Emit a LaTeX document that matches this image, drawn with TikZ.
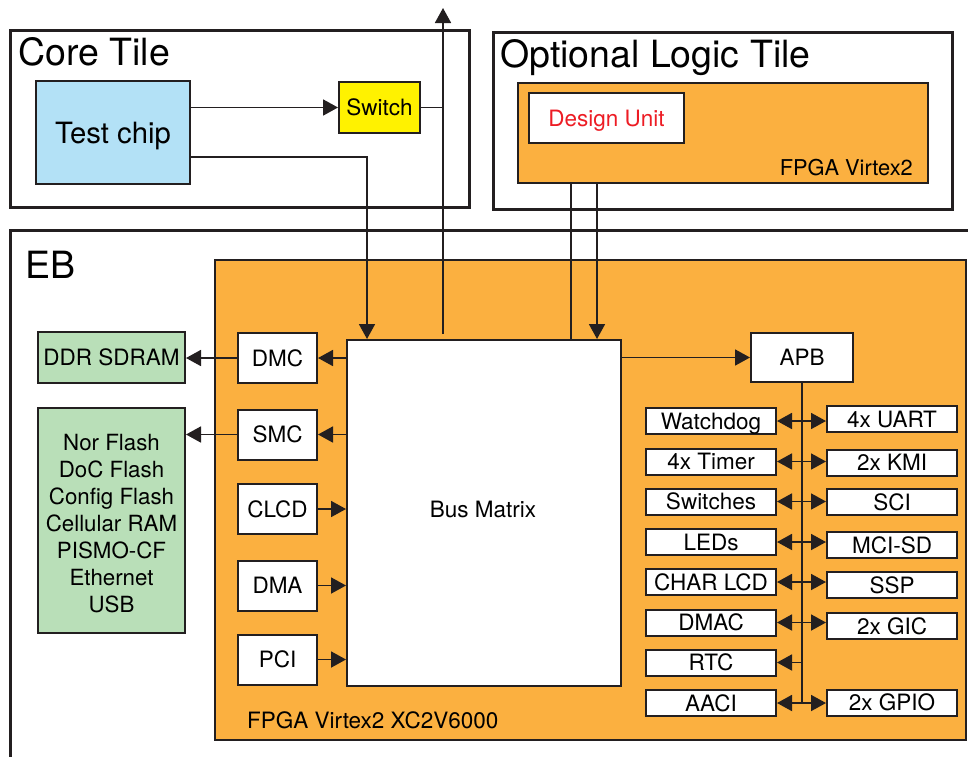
\documentclass[tikz,border=0pt]{standalone}
\usepackage{fontspec}
\setmainfont{TeX Gyre Heros}
\usetikzlibrary{arrows.meta}

\definecolor{ink}{HTML}{231F20}
\definecolor{fpgaorange}{HTML}{FBB040}
\definecolor{chipblue}{HTML}{B3E1F6}
\definecolor{memgreen}{HTML}{B9DFB8}
\definecolor{switchyellow}{HTML}{FFF200}
\definecolor{unitred}{HTML}{ED1C24}

\tikzset{
  tilebox/.style={draw=ink, line width=3pt, inner sep=0pt},
  box/.style={draw=ink, line width=2pt, fill=white, inner sep=0pt},
  lbl/.style={font=\fontsize{22.5}{27}\selectfont, text height=16.1pt, text depth=0pt},
  title/.style={font=\fontsize{37.5}{42}\selectfont, inner sep=0pt, anchor=base west},
  ctrl/.style={box, lbl, minimum width=79pt, minimum height=50pt},
  periph/.style={box, lbl, minimum width=130pt, minimum height=26pt},
  conn/.style={draw=ink, line width=1.8pt},
  arr/.style={conn, -{Triangle[width=16pt,length=15pt]}},
  darr/.style={conn, {Triangle[width=16pt,length=15pt]}-{Triangle[width=16pt,length=15pt]}},
}

\begin{document}
\begin{tikzpicture}[x=1pt, y=-1pt, line join=miter]
\useasboundingbox (0,0) rectangle (968,756);

% ---------- EB board ----------
\node[tilebox, minimum width=990pt, minimum height=570pt] (eb) at (505,515) {};
\node[title] (ebl) at (25,278) {EB};

\node[draw=ink, line width=2pt, fill=fpgaorange, minimum width=751pt, minimum height=480pt] (fpga) at (590.5,500) {};
\node[font=\fontsize{22.5}{27}\selectfont, inner sep=0pt, anchor=base west] (fpgal) at (247,728) {FPGA Virtex2 XC2V6000};

% ---------- Core tile ----------
\node[tilebox, minimum width=459pt, minimum height=177pt] (core) at (239.5,118.5) {};
\node[title] (corel) at (18,65) {Core Tile};
\node[box, fill=chipblue, minimum width=154pt, minimum height=103pt,
      font=\fontsize{29.3}{34}\selectfont, text height=21pt, text depth=0pt] (testchip) at (113,132.5) {Test chip};
\node[box, lbl, fill=switchyellow, minimum width=81pt, minimum height=51pt] (switch) at (379.5,107.5) {Switch};

% ---------- Optional logic tile ----------
\node[tilebox, minimum width=459pt, minimum height=177pt] (logic) at (722.5,120.5) {};
\node[title] (logicl) at (500,67) {Optional Logic Tile};
\node[draw=ink, line width=2pt, fill=fpgaorange, minimum width=410pt, minimum height=100pt] (lfpga) at (723,133) {};
\node[box, lbl, text=unitred, minimum width=155pt, minimum height=50pt] (unit) at (606.5,118) {Design Unit};
\node[font=\fontsize{21.8}{26}\selectfont, inner sep=0pt, anchor=base east] (lfpgal) at (913,175) {FPGA Virtex2};

% ---------- Bus matrix and controllers ----------
\node[box, minimum width=274pt, minimum height=346pt] (bm) at (484,513) {};
\node[lbl, inner sep=0pt] (bml) at (483,509.5) {Bus Matrix};

\node[ctrl] (dmc)  at (277.5,358)   {DMC};
\node[ctrl] (smc)  at (277.5,434.5) {SMC};
\node[ctrl] (clcd) at (277.5,509)   {CLCD};
\node[ctrl] (dma)  at (277.5,585.5) {DMA};
\node[ctrl] (pci)  at (277.5,659.5) {PCI};

% ---------- External memories ----------
\node[box, lbl, fill=memgreen, minimum width=147pt, minimum height=51pt] (ddr) at (111.5,357.5) {DDR SDRAM};
\node[box, fill=memgreen, minimum width=147pt, minimum height=225pt] (flash) at (111.5,520.5) {};
\node[align=center, inner sep=0pt, font=\fontsize{22.3}{27}\selectfont] (flashl) at (111.5,523.5)
      {Nor Flash\\DoC Flash\\Config Flash\\Cellular RAM\\PISMO-CF\\Ethernet\\USB};

% ---------- APB and peripherals ----------
\node[box, lbl, minimum width=102pt, minimum height=49pt] (apb) at (802,357.5) {APB};

\node[periph] (wd)     at (711,421)   {Watchdog};
\node[periph] (timer)  at (711,461.5) {4x Timer};
\node[periph] (sws)    at (711,501.5) {Switches};
\node[periph] (leds)   at (711,542)   {LEDs};
\node[periph] (charlcd) at (711,582)  {CHAR LCD};
\node[periph] (dmac)   at (711,622.5) {DMAC};
\node[periph] (rtc)    at (711,662.5) {RTC};
\node[periph] (aaci)   at (711,703)   {AACI};

\node[periph] (uart)   at (892,419)   {4x UART};
\node[periph] (kmi)    at (892,462.5) {2x KMI};
\node[periph] (sci)    at (892,502)   {SCI};
\node[periph] (mcisd)  at (892,545)   {MCI-SD};
\node[periph] (ssp)    at (892,585)   {SSP};
\node[periph] (gic)    at (892,626)   {2x GIC};
\node[periph] (gpio)   at (892,702.5) {2x GPIO};

% ---------- Connectors ----------
\coordinate (uptip) at (443,8);
\draw[arr] (testchip.east |- switch.west) -- (switch.west);
\draw[conn] (switch.east) -- (switch.east -| uptip);
\draw[arr] ([shift={(-41,-5)}]bm.north) -- (uptip);
\draw[arr] ([yshift=-24.5pt]testchip.east) -| ([xshift=-117pt]bm.north);
\draw[conn] ([xshift=-152pt]lfpga.south) -- ([xshift=87pt]bm.north);
\draw[arr] ([xshift=-126pt]lfpga.south) -- ([xshift=113pt]bm.north);

\draw[arr] (dmc.east -| bm.west) -- (dmc.east);
\draw[arr] (smc.east -| bm.west) -- (smc.east);
\draw[arr] (clcd.east) -- (clcd.east -| bm.west);
\draw[arr] (dma.east) -- (dma.east -| bm.west);
\draw[arr] (pci.east) -- (pci.east -| bm.west);

\draw[arr] (dmc.west) -- (dmc.west -| ddr.east);
\draw[arr] (smc.west) -- (smc.west -| flash.east);

\draw[arr] (apb.west -| bm.east) -- (apb.west);
\draw[conn] (apb.south) -- (apb.south |- aaci.east);

\draw[darr] (wd.east)      -- (wd.east -| uart.west);
\draw[darr] (timer.east)   -- (timer.east -| kmi.west);
\draw[darr] (sws.east)     -- (sws.east -| sci.west);
\draw[darr] (leds.east)    -- (leds.east -| mcisd.west);
\draw[darr] (charlcd.east) -- (charlcd.east -| ssp.west);
\draw[darr] (dmac.east)    -- (dmac.east -| gic.west);
\draw[arr]  (rtc.east -| apb.south) -- (rtc.east);
\draw[darr] (aaci.east)    -- (aaci.east -| gpio.west);
\end{tikzpicture}
\end{document}
